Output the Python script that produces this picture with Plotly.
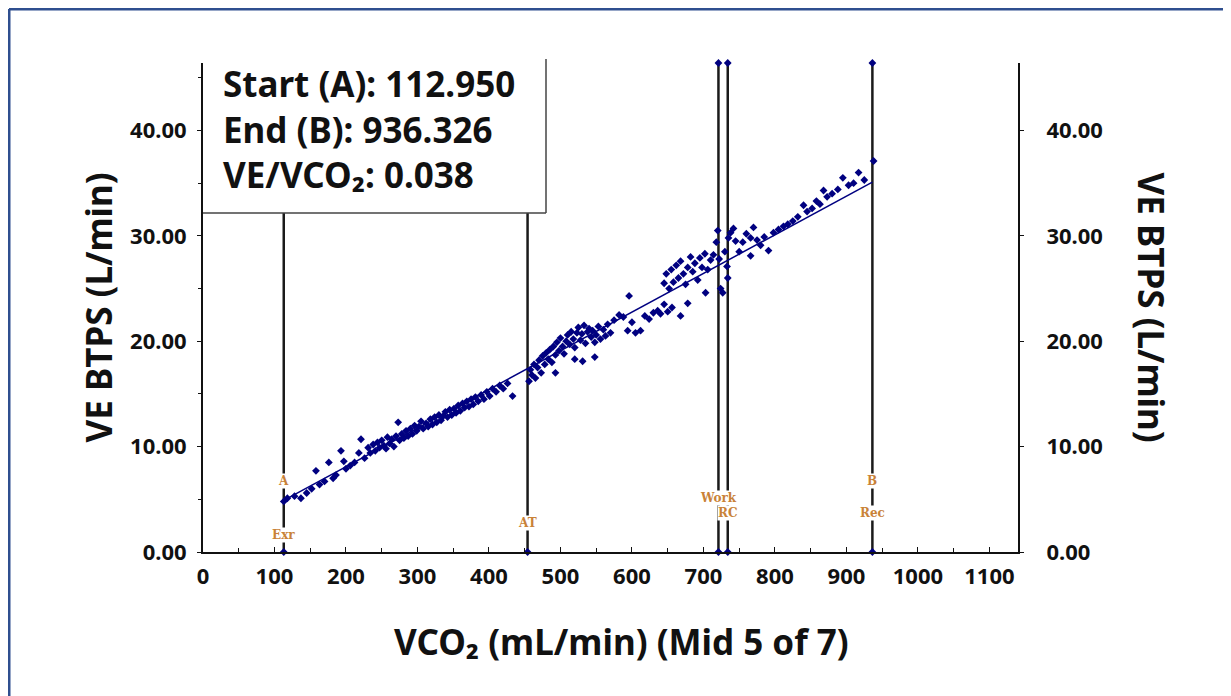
import plotly.graph_objects as go

# breath-by-breath samples (VCO2 mL/min, VE BTPS L/min)
vco2 = [113, 118, 128, 137, 145, 152, 158, 163, 170, 176, 182, 186, 193, 197, 200, 206, 212, 218, 221, 226,
        231, 234, 238, 241, 244, 247, 250, 253, 256, 258, 261, 264, 267, 270, 273, 275, 278, 281, 284, 287,
        290, 293, 296, 299, 302, 305, 308,
        312, 315, 318, 321, 324, 327, 330, 333, 336, 339, 342, 345, 348, 351, 354, 357, 360, 363, 366, 369,
        372, 375, 378, 381, 385, 389, 393, 397, 401, 405, 410, 415, 420, 426, 433,
        456, 458, 460, 463, 465, 468, 470, 473, 475, 478, 480, 483, 485, 488, 490, 493, 495, 498, 500, 503,
        505, 508, 510, 513, 515, 518, 520, 523, 525, 528, 530, 533, 535, 538, 540, 543, 545, 548, 550, 553,
        556, 560, 563, 566, 570, 548, 520, 531, 493,
        575, 582, 588, 594, 596, 600, 605, 612, 618, 624, 630, 636, 640, 645, 650, 656, 668, 678, 703,
        645, 648, 652, 655, 658, 662, 665, 668, 672, 675, 678, 682, 685, 688, 692, 695, 698, 702, 706, 710, 714,
        718, 720, 722, 724, 727, 730, 733, 735, 738, 742, 745, 734,
        750, 755, 760, 766, 766, 770, 775, 780, 785, 791, 798, 805, 812, 818, 825, 832, 840, 845, 852, 858,
        863, 868, 873, 880, 888, 895, 903, 910, 917, 925, 938]
ve = [4.8, 5.1, 5.3, 5.1, 5.6, 6.0, 7.7, 6.4, 6.7, 8.5, 7.0, 7.3, 9.6, 8.6, 7.9, 8.2, 8.5, 9.4, 10.7, 8.9,
      9.9, 9.4, 10.2, 9.6, 10.4, 9.9, 10.6, 10.1, 9.8, 10.9, 10.3, 10.7, 10.0, 11.0, 12.3, 10.6, 11.2, 10.8, 11.5, 11.0,
      11.7, 11.2, 12.0, 11.5, 11.9, 12.4, 11.7,
      12.2, 11.9, 12.6, 12.1, 12.8, 12.3, 13.0, 12.5, 12.9, 13.3, 12.8, 13.5, 13.0, 13.6, 13.2, 13.9, 13.4, 14.1, 13.7, 14.3,
      13.8, 14.5, 14.0, 14.7, 14.3, 14.9, 14.5, 15.2, 14.8, 15.5, 15.2, 15.8, 15.5, 16.0, 14.8,
      16.2, 17.3, 16.8, 17.8, 16.5, 17.5, 18.2, 17.0, 18.6, 17.8, 18.9, 18.3, 19.2, 18.0, 19.5, 18.7, 19.9, 19.1, 20.3, 19.5,
      18.8, 20.0, 20.6, 19.7, 20.9, 20.2, 19.4, 20.8, 21.3, 20.1, 20.7, 21.5, 19.8, 20.9, 21.2, 20.4, 21.0, 19.9, 20.6, 21.4,
      20.2, 21.1, 20.5, 21.6, 20.8, 18.5, 18.3, 18.1, 17.0,
      22.0, 22.5, 22.3, 21.0, 24.3, 21.8, 20.8, 21.0, 22.4, 22.1, 22.7, 22.9, 22.6, 23.5, 22.8, 23.2, 22.4, 23.6, 24.6,
      25.5, 26.4, 25.0, 26.8, 25.6, 27.2, 26.0, 27.6, 26.4, 25.4, 27.0, 28.0, 26.6, 27.4, 25.8, 27.9, 27.0, 28.3, 26.8, 27.7, 28.2,
      29.4, 30.5, 27.8, 25.0, 24.6, 28.5, 27.1, 29.8, 30.3, 30.7, 29.5, 26.0,
      28.5, 29.4, 30.2, 29.8, 28.1, 30.8, 29.6, 29.1, 29.9, 28.6, 30.3, 30.6, 30.9, 31.1, 31.4, 31.8, 32.9, 32.3, 32.6, 33.3,
      33.0, 34.3, 33.7, 34.0, 34.4, 35.5, 34.8, 35.0, 36.0, 35.3, 37.1]

# fitted slope segment between start (A) and end (B)
fit_x = [112.950, 936.326]
fit_y = [4.9, 35.1]

# event markers
event_x = [112.950, 454, 721, 734, 936.326]
event_top = 46.4

label_text = ["A", "Exr", "AT", "Work", "RC", "B", "Rec"]
label_x = [112.950, 112.950, 454, 721, 734, 936.326, 936.326]
label_y = [6.7, 1.6, 2.75, 5.1, 3.7, 6.7, 3.7]

FONT = "Noto Sans"
NAVY = "#000080"
INK = "#111"


def px_x(p):
    # page pixel -> paper x (plot area spans 202..1017)
    return (p - 202) / 815


def px_y(p):
    # page pixel -> paper y (plot area spans 551..62)
    return (551 - p) / 489


fig = go.Figure()

for ex in event_x:
    fig.add_trace(go.Scatter(x=[ex, ex], y=[0, event_top], mode="lines",
                             line=dict(color="#1a1a1a", width=2.5),
                             hoverinfo="skip", showlegend=False))

fig.add_trace(go.Scatter(x=vco2, y=ve, mode="markers",
                         marker=dict(symbol="diamond", size=6, color=NAVY),
                         showlegend=False))
fig.add_trace(go.Scatter(x=fit_x, y=fit_y, mode="lines",
                         line=dict(color=NAVY, width=1.5), showlegend=False))

# markers at both ends of the event lines
fig.add_trace(go.Scatter(x=event_x + event_x, y=[0] * len(event_x) + [event_top] * len(event_x),
                         mode="markers", marker=dict(symbol="diamond", size=6, color=NAVY),
                         cliponaxis=False, hoverinfo="skip", showlegend=False))

# dummy trace so the right axis is drawn
fig.add_trace(go.Scatter(x=[0], y=[0], mode="none", yaxis="y2",
                         hoverinfo="skip", showlegend=False))

for t, lx, ly in zip(label_text, label_x, label_y):
    fig.add_annotation(x=lx, y=ly, text=t, showarrow=False, bgcolor="white", borderpad=0,
                       font=dict(family="DejaVu Serif", size=12, color="#c98238", weight="bold"))

# stats box over the upper-left corner
bx1, by0, by1 = px_x(545), px_y(212), px_y(58)
fig.add_shape(type="rect", xref="paper", yref="paper", x0=0, x1=bx1, y0=by0, y1=by1,
              fillcolor="white", line=dict(width=0), layer="above")
fig.add_shape(type="line", xref="paper", yref="paper", x0=bx1, x1=bx1, y0=by0, y1=by1,
              line=dict(color="#444", width=1.5))
fig.add_shape(type="line", xref="paper", yref="paper", x0=0, x1=bx1, y0=by0, y1=by0,
              line=dict(color="#444", width=1.5))
fig.add_annotation(xref="paper", yref="paper", x=px_x(220), y=px_y(57),
                   xanchor="left", yanchor="top", align="left", showarrow=False,
                   text="Start (A): 112.950<br>End (B): 936.326<br>VE/VCO₂: 0.038",
                   font=dict(family=FONT, size=35, color=INK, weight="bold"))

title_font = dict(family=FONT, size=35, color=INK, weight="bold")

# axis titles placed as annotations to match the original positions
fig.add_annotation(xref="paper", yref="paper", x=px_x(620), y=px_y(640), xanchor="center",
                   yanchor="middle", text="VCO₂ (mL/min) (Mid 5 of 7)", showarrow=False,
                   font=title_font)
fig.add_annotation(xref="paper", yref="paper", x=px_x(97), y=0.5, xanchor="center",
                   textangle=-90, text="VE BTPS (L/min)", showarrow=False, font=title_font)
fig.add_annotation(xref="paper", yref="paper", x=px_x(1150), y=0.5, xanchor="center",
                   textangle=90, text="VE BTPS (L/min)", showarrow=False, font=title_font)

# page frame (top and left edges)
fx0, fy1 = px_x(8), px_y(8)
fig.add_shape(type="line", xref="paper", yref="paper", x0=fx0, x1=px_x(1240), y0=fy1, y1=fy1,
              line=dict(color="#2f4f8f", width=3))
fig.add_shape(type="line", xref="paper", yref="paper", x0=fx0, x1=fx0, y0=fy1, y1=px_y(710),
              line=dict(color="#2f4f8f", width=3))

tick_font = dict(family=FONT, size=22, color=INK, weight="bold")
fig.update_layout(
    width=1231, height=696,
    margin=dict(l=195, r=221, t=55, b=152),
    paper_bgcolor="white", plot_bgcolor="white",
    xaxis=dict(range=[0, 1140], tickvals=list(range(0, 1101, 100)), ticks="inside", ticklen=5,
               tickcolor=INK, minor=dict(dtick=50, ticks="inside", ticklen=4, tickcolor=INK),
               showline=True, linecolor=INK, linewidth=2, showgrid=False, zeroline=False,
               tickfont=tick_font, ticklabelstandoff=4),
    yaxis=dict(range=[0, event_top], tickvals=[0, 10, 20, 30, 40], tickformat=".2f",
               ticks="outside", ticklen=4, tickcolor=INK,
               minor=dict(dtick=5, ticks="outside", ticklen=3, tickcolor=INK),
               showline=True, linecolor=INK, linewidth=2, showgrid=False, zeroline=False,
               tickfont=tick_font, ticklabelstandoff=6),
    yaxis2=dict(overlaying="y", side="right", range=[0, event_top], tickvals=[0, 10, 20, 30, 40],
                tickformat=".2f", ticks="outside", ticklen=4, tickcolor=INK,
                showline=True, linecolor=INK, linewidth=2, showgrid=False, zeroline=False,
                tickfont=tick_font, ticklabelstandoff=18),
)

fig.write_html("out.html")
